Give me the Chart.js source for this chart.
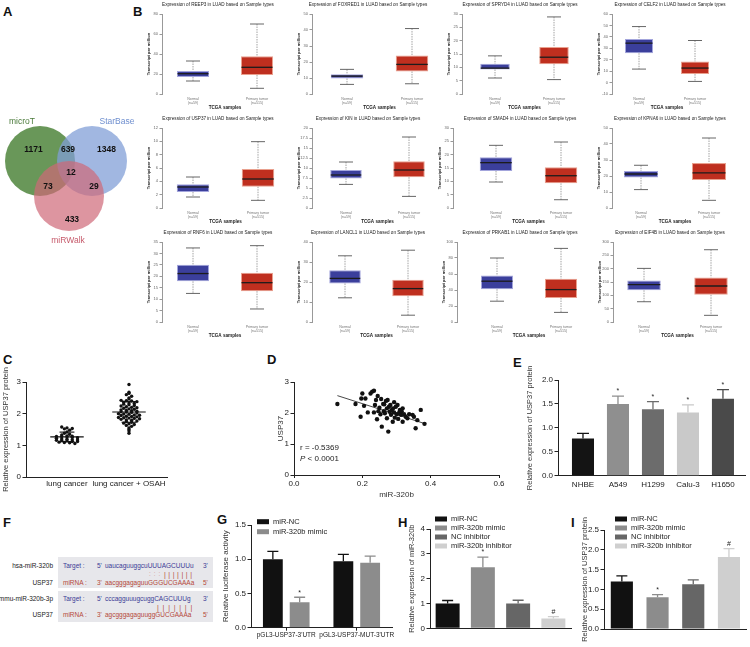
<!DOCTYPE html>
<html>
<head>
<meta charset="utf-8">
<script src="https://cdn.jsdelivr.net/npm/chart.js@4.4.1/dist/chart.umd.min.js"></script>
<style>
html, body { margin: 0; padding: 0; background: #fff; }
#stage { position: relative; width: 750px; height: 647px; overflow: hidden; font-family: "Liberation Sans", Arial, sans-serif; color: #222; }
#stage canvas { position: absolute; }
.t { position: absolute; white-space: nowrap; line-height: 1; }
.seqbox { position: absolute; background: #e7e7eb; }
</style>
</head>
<body>
<div id="stage"></div>
<script>
// ---------- data ----------
const vennSets = ['microT', 'StarBase', 'miRWalk'];
// microT only, microT+StarBase, StarBase only, all three, microT+miRWalk, StarBase+miRWalk, miRWalk only
const vennCounts = [1171, 639, 1348, 12, 73, 29, 433];

const genes = ['REEP3', 'FOXRED1', 'SPRYD4', 'CELF2', 'USP37', 'KIN', 'SMAD4', 'KPNA6', 'RNF6', 'LANCL1', 'PRKAB1', 'EIF4B'];
const sampleTypes = [['Normal', '(n=59)'], ['Primary tumor', '(n=515)']];
const tpmMin  = [0, 0, 0, -10, 0, 0, 0, 0, 0, 0, 0, 0];
const tpmMax  = [80, 50, 30, 60, 12, 20, 30, 50, 35, 40, 100, 300];
const tpmStep = [20, 10, 5, 10, 2, 2.5, 5, 10, 5, 10, 20, 50];
const normalLo  = [13, 6, 6, 11.8, 1.65, 5.9, 9.75, 11.5, 12.5, 12.1, 26, 76];
const normalQ1  = [17, 9.75, 9.2, 25.7, 2.4, 7.4, 13.9, 19, 17.8, 19.3, 41, 119];
const normalMed = [20.3, 11.2, 9.7, 34.5, 3.15, 8.25, 17, 21.25, 21.2, 21.8, 51, 140];
const normalQ3  = [23, 12.4, 11.3, 38.2, 3.55, 9.5, 19, 23.1, 25, 25.9, 58, 156];
const normalHi  = [33, 15.4, 14.3, 49, 4.65, 11.5, 23.5, 26.7, 32.4, 33.1, 80, 201];
const tumorLo   = [5.7, 6.4, 5.4, 1, 1.15, 2.9, 3.1, 4.8, 5.7, 3.4, 12, 25];
const tumorQ1   = [19, 14.1, 11.2, 7.4, 3.2, 7.7, 9.25, 17.5, 13.5, 12.9, 30, 102];
const tumorMed  = [26.7, 18.5, 13.8, 12.7, 4.35, 9.5, 12.1, 22, 17.2, 16.7, 40.5, 135];
const tumorQ3   = [37.7, 24, 17.6, 18.5, 5.85, 11.7, 15.25, 28.1, 21.6, 21.1, 54, 167];
const tumorHi   = [70, 40.9, 28.9, 36.8, 9.95, 17.75, 24.75, 43.75, 33.4, 35.9, 92, 271];

const groupsC = ['lung cancer', 'lung cancer + OSAH'];
const usp37LungCancer = [1.58, 1.55, 1.53, 1.52, 1.48, 1.42, 1.38, 1.35, 1.33, 1.3, 1.29, 1.28, 1.27, 1.26, 1.25,
  1.24, 1.22, 1.2, 1.19, 1.18, 1.17, 1.16, 1.15, 1.14, 1.12, 1.12, 1.1, 1.09, 1.08, 1.06];
const usp37LungCancerOsah = [2.92, 2.68, 2.64, 2.6, 2.55, 2.5, 2.46, 2.42, 2.41, 2.4, 2.38, 2.36, 2.34, 2.32, 2.3,
  2.28, 2.26, 2.24, 2.22, 2.2, 2.19, 2.17, 2.15, 2.14, 2.12, 2.1, 2.09, 2.08, 2.06, 2.05, 2.04, 2.02, 2.0, 1.99,
  1.98, 1.96, 1.95, 1.94, 1.92, 1.91, 1.9, 1.88, 1.87, 1.86, 1.85, 1.84, 1.82, 1.8, 1.79, 1.77, 1.75, 1.73, 1.7,
  1.68, 1.66, 1.63, 1.6, 1.55, 1.5, 1.45, 1.38];

const mir320bTissue = [0.127, 0.180, 0.195, 0.197, 0.200, 0.205, 0.209, 0.216, 0.224, 0.229, 0.234, 0.237, 0.240,
  0.245, 0.250, 0.253, 0.255, 0.257, 0.261, 0.263, 0.264, 0.269, 0.272, 0.274, 0.276, 0.278, 0.280, 0.282, 0.284,
  0.286, 0.289, 0.290, 0.293, 0.295, 0.298, 0.301, 0.303, 0.305, 0.308, 0.310, 0.313, 0.315, 0.318, 0.322, 0.327,
  0.332, 0.337, 0.347, 0.351, 0.361, 0.371, 0.382, 0.356, 0.243, 0.234, 0.266, 0.293, 0.318, 0.272, 0.247];
const usp37Tissue = [2.29, 2.29, 1.88, 2.47, 2.63, 2.23, 2.47, 2.02, 2.63, 2.69, 2.72, 2.26, 2.42, 2.55, 2.17, 1.96,
  2.45, 1.56, 2.29, 2.06, 2.28, 2.39, 1.83, 2.42, 1.40, 2.20, 2.04, 2.26, 1.94, 2.09, 1.72, 2.15, 2.02, 1.85, 2.20,
  1.96, 2.26, 1.81, 2.02, 2.10, 1.94, 2.06, 1.72, 1.96, 1.88, 1.83, 1.96, 1.94, 1.88, 1.77, 2.10, 1.65, 1.51, 1.80,
  2.02, 1.99, 2.35, 2.15, 2.15, 2.06];
const fitMir320b = [0.127, 0.385];
const fitUsp37 = [2.56, 1.65];
const corrR = -0.5369;
const corrP = '< 0.0001';

const cellLines = ['NHBE', 'A549', 'H1299', 'Calu-3', 'H1650'];
const usp37Cells = [0.78, 1.50, 1.39, 1.32, 1.61];
const usp37CellsSd = [0.105, 0.165, 0.16, 0.16, 0.19];
const cellMarks = ['', '*', '*', '*', '*'];

const reporters = ["pGL3-USP37-3'UTR", "pGL3-USP37-MUT-3'UTR"];
const lucNC = [1.0, 0.97];
const lucNCSd = [0.115, 0.10];
const lucMimic = [0.37, 0.95];
const lucMimicSd = [0.075, 0.095];
const lucMimicMarks = ['*', ''];

const treatments = ['miR-NC', 'miR-320b mimic', 'NC inhibitor', 'miR-320b inhibitor'];
const mir320bLevel = [1.0, 2.46, 1.0, 0.39];
const mir320bSd = [0.12, 0.41, 0.13, 0.08];
const mir320bMarks = ['', '*', '', '#'];
const usp37Level = [1.2, 0.8, 1.13, 1.82];
const usp37Sd = [0.14, 0.07, 0.11, 0.21];
const usp37Marks = ['', '*', '', '#'];

const pairNames = ['hsa-miR-320b', 'USP37', 'mmu-miR-320b-3p', 'USP37'];
const targetSeqs = ['uaucaguuggcuUUUAGCUUUu', 'cccagguuugcuggCAGCUUUg'];
const mirnaSeqs = ['aacgggagaguuGGGUCGAAAa', 'agcgggagaguuggGUCGAAAa'];

// ---------- setup ----------
const FONT = '"Liberation Sans", Arial, sans-serif';
Chart.defaults.font.family = FONT;
Chart.defaults.color = '#222';
Chart.defaults.animation = false;
Chart.defaults.plugins.legend.display = false;
Chart.defaults.plugins.tooltip.enabled = false;

const stage = document.getElementById('stage');

function canvasAt(left, top, w, h) {
  const c = document.createElement('canvas');
  c.width = w; c.height = h;
  c.style.left = left + 'px'; c.style.top = top + 'px';
  c.style.width = w + 'px'; c.style.height = h + 'px';
  stage.appendChild(c);
  return c.getContext('2d');
}

function text(x, y, s, size, o = {}) {
  const d = document.createElement('div');
  d.className = 't';
  d.textContent = s;
  d.style.fontSize = size + 'px';
  d.style.top = (y - size / 2) + 'px';
  if (o.right) d.style.right = (750 - x) + 'px'; else d.style.left = x + 'px';
  if (o.color) d.style.color = o.color;
  if (o.bold) d.style.fontWeight = 'bold';
  if (o.spacing) d.style.letterSpacing = o.spacing + 'px';
  stage.appendChild(d);
}

// GraphPad-style y axis
function gpY(min, max, step, title, size, pad, width, dec) {
  return {
    min, max,
    ticks: { stepSize: step, font: { size: 8 }, color: '#222', padding: 1.5,
      callback: v => dec === undefined ? v : Number(v).toFixed(dec) },
    grid: { drawOnChartArea: false, tickLength: 3.5, color: '#222' },
    border: { color: '#222', width: 1 },
    title: { display: true, text: title, font: { size: size }, color: '#333', padding: { top: pad, bottom: 0 } },
    afterFit: s => { s.width = width; }
  };
}

// ---------- plugins ----------
const errorBars = {
  id: 'errorBars',
  afterDatasetsDraw(chart, args, opts) {
    const { ctx } = chart;
    const y = chart.scales.y;
    ctx.save();
    chart.data.datasets.forEach((ds, di) => {
      if (!ds.errors) return;
      const meta = chart.getDatasetMeta(di);
      meta.data.forEach((bar, i) => {
        const v = meta.controller.getParsed(i).y;
        const top = y.getPixelForValue(v + ds.errors[i]);
        const col = Array.isArray(ds.backgroundColor) ? ds.backgroundColor[i] : ds.backgroundColor;
        ctx.strokeStyle = col;
        ctx.lineWidth = 1.3;
        ctx.beginPath();
        ctx.moveTo(bar.x, bar.y); ctx.lineTo(bar.x, top);
        ctx.moveTo(bar.x - opts.cap, top); ctx.lineTo(bar.x + opts.cap, top);
        ctx.stroke();
        if (ds.marks && ds.marks[i]) {
          ctx.fillStyle = '#222';
          ctx.font = opts.markSize + 'px ' + FONT;
          ctx.textAlign = 'center';
          ctx.textBaseline = 'bottom';
          ctx.fillText(ds.marks[i], bar.x, top - 1);
        }
      });
    });
    ctx.restore();
  }
};

const swatchLegend = {
  id: 'swatchLegend',
  afterDraw(chart, args, opts) {
    const { ctx } = chart;
    ctx.save();
    ctx.font = opts.size + 'px ' + FONT;
    ctx.textBaseline = 'middle';
    opts.items.forEach((it, k) => {
      const y = opts.y + k * opts.rowH;
      ctx.fillStyle = it.color;
      ctx.fillRect(opts.x, y - 2.5, 12, 5);
      ctx.fillStyle = '#222';
      ctx.fillText(it.label, opts.x + 16, y);
    });
    ctx.restore();
  }
};

const boxWhiskers = {
  id: 'boxWhiskers',
  beforeDatasetsDraw(chart) {
    const { ctx, scales: { x, y } } = chart;
    const ds = chart.data.datasets[0];
    ctx.save();
    ds.data.forEach((d, i) => {
      const px = x.getPixelForValue(d.x);
      const hi = y.getPixelForValue(ds.stats.hi[i]), lo = y.getPixelForValue(ds.stats.lo[i]);
      const q3 = y.getPixelForValue(d.y[1]), q1 = y.getPixelForValue(d.y[0]);
      ctx.strokeStyle = '#8c8c8c'; ctx.lineWidth = 0.8; ctx.setLineDash([1.5, 1]);
      ctx.beginPath();
      ctx.moveTo(px, hi); ctx.lineTo(px, q3);
      ctx.moveTo(px, q1); ctx.lineTo(px, lo);
      ctx.stroke();
      ctx.setLineDash([]); ctx.strokeStyle = '#555'; ctx.lineWidth = 0.9;
      ctx.beginPath();
      ctx.moveTo(px - 7, hi); ctx.lineTo(px + 7, hi);
      ctx.moveTo(px - 7, lo); ctx.lineTo(px + 7, lo);
      ctx.stroke();
    });
    ctx.restore();
  },
  afterDatasetsDraw(chart, args, opts) {
    const { ctx, scales: { y } } = chart;
    const ds = chart.data.datasets[0];
    const meta = chart.getDatasetMeta(0);
    ctx.save();
    ctx.strokeStyle = '#1c1c1c'; ctx.lineWidth = 1.3;
    meta.data.forEach((bar, i) => {
      const m = y.getPixelForValue(ds.stats.med[i]);
      ctx.beginPath();
      ctx.moveTo(bar.x - bar.width / 2 + 0.5, m); ctx.lineTo(bar.x + bar.width / 2 - 0.5, m);
      ctx.stroke();
    });
    ctx.fillStyle = '#222';
    ctx.font = '4.6px ' + FONT;
    ctx.textAlign = 'center'; ctx.textBaseline = 'middle';
    ctx.fillText(opts.title, opts.titleX, 4.8);
    ctx.restore();
  }
};

// ---------- panel letters ----------
[['A', 3, 11], ['B', 133, 11], ['C', 3, 359], ['D', 267, 359], ['E', 513, 362],
 ['F', 3, 522.5], ['G', 217, 519.5], ['H', 398, 522], ['I', 571, 522.5]]
  .forEach(([s, x, y]) => text(x, y, s, 13, { bold: true, color: '#111' }));

// ---------- A: Venn ----------
{
  const W = 150, H = 160;
  const centers = [[40, 61], [92, 61], [69, 96]];
  const fills = ['rgba(72,128,52,0.82)', 'rgba(128,158,214,0.74)', 'rgba(206,104,120,0.70)'];
  const nameColors = ['#4a7a3a', '#6f8fcf', '#c65a6b'];
  const namePos = [[22, 22], [117, 22], [68, 141]];
  const countPos = [[33.5, 50], [68, 50], [106.5, 50], [71, 73], [48, 87], [94, 87], [72, 120]];
  const vennText = {
    id: 'vennText',
    afterDatasetsDraw(chart) {
      const { ctx, scales: { x, y } } = chart;
      ctx.save();
      ctx.textAlign = 'center'; ctx.textBaseline = 'middle';
      ctx.font = '8.5px ' + FONT;
      vennSets.forEach((s, i) => {
        ctx.fillStyle = nameColors[i];
        ctx.fillText(s, x.getPixelForValue(namePos[i][0]), y.getPixelForValue(namePos[i][1]));
      });
      ctx.font = 'bold 8.5px ' + FONT;
      ctx.fillStyle = '#111';
      vennCounts.forEach((n, i) => {
        ctx.fillText(String(n), x.getPixelForValue(countPos[i][0]), y.getPixelForValue(countPos[i][1]));
      });
      ctx.restore();
    }
  };
  new Chart(canvasAt(0, 100, W, H), {
    type: 'bubble',
    data: {
      datasets: vennSets.map((name, i) => ({
        label: name,
        data: [{ x: centers[i][0], y: centers[i][1], r: 35 }],
        backgroundColor: fills[i], borderWidth: 0, order: 3 - i, clip: false
      }))
    },
    options: {
      responsive: false, devicePixelRatio: 1,
      layout: { padding: 0, autoPadding: false },
      scales: { x: { display: false, min: 0, max: W }, y: { display: false, min: 0, max: H, reverse: true } }
    },
    plugins: [vennText]
  });
}

// ---------- B: expression box plots ----------
{
  // y-axis x position, normal centre, tumour centre (page px)
  const boxAxes = [[162, 193, 257], [312, 347, 412], [462, 495, 554], [612, 639, 695],
                   [162, 193, 258], [312, 346, 409], [453, 496, 561], [612, 641, 709],
                   [162, 193, 257], [312, 345, 408], [457, 497, 561], [613, 644, 711]];
  const titleCenters = [218, 368, 520, 670];
  genes.forEach((gene, i) => {
    const row = Math.floor(i / 4), col = i % 4;
    const [ax, c1, c2] = boxAxes[i];
    const W = 180, H = 114, left = ax - 18;
    const s = c2 - c1, off = (c1 - ax) / s;
    const right = 18 + (c2 - ax) + (c1 - ax);
    new Chart(canvasAt(left, row * 114, W, H), {
      type: 'bar',
      data: {
        datasets: [{
          data: [{ x: 0, y: [normalQ1[i], normalQ3[i]] }, { x: 1, y: [tumorQ1[i], tumorQ3[i]] }],
          backgroundColor: ['#3b3f9c', '#bf2f1f'],
          borderColor: ['#a3a5dc', '#e9a08e'],
          borderWidth: 1, borderSkipped: false,
          barPercentage: 0.5, categoryPercentage: 1,
          stats: { lo: [normalLo[i], tumorLo[i]], med: [normalMed[i], tumorMed[i]], hi: [normalHi[i], tumorHi[i]] }
        }]
      },
      options: {
        responsive: false, devicePixelRatio: 1,
        layout: { padding: { left: 0, top: 14, right: W - right, bottom: 0 } },
        plugins: { boxWhiskers: { title: `Expression of ${gene} in LUAD based on Sample types`, titleX: titleCenters[col] - left } },
        scales: {
          x: {
            type: 'linear', min: -off, max: 1 + off, offset: false,
            afterBuildTicks: sc => { sc.ticks = [{ value: 0 }, { value: 1 }]; },
            ticks: { callback: v => sampleTypes[v], font: { size: 3.6 }, color: '#777', padding: 3, maxRotation: 0 },
            grid: { display: false, drawTicks: false },
            border: { display: false },
            title: { display: true, text: 'TCGA samples', font: { size: 4.6, weight: 'bold' }, color: '#222', padding: { top: 0, bottom: 4 } },
            afterFit: sc => { sc.height = H - 94; }
          },
          y: {
            min: tpmMin[i], max: tpmMax[i],
            ticks: { stepSize: tpmStep[i], font: { size: 4 }, color: '#666', padding: 1.5 },
            grid: { drawOnChartArea: false, tickLength: 2.5, color: '#999' },
            border: { color: '#999' },
            title: { display: true, text: 'Transcript per million', font: { size: 4.2, weight: 'bold' }, color: '#222', padding: { top: 2, bottom: 0 } },
            afterFit: sc => { sc.width = 18; }
          }
        }
      },
      plugins: [boxWhiskers]
    });
  });
}

// ---------- C: dot plot ----------
{
  const W = 180, H = 160;
  const swarm = (vals, c) => {
    const rows = {};
    vals.forEach(v => { const k = Math.round(v / 0.06); (rows[k] = rows[k] || []).push(v); });
    const pts = [];
    Object.values(rows).forEach(r => r.forEach((v, j) => pts.push({ x: c + (j - (r.length - 1) / 2) * 0.085, y: v })));
    return pts;
  };
  const meanSd = (vals, c) => {
    const m = vals.reduce((a, b) => a + b, 0) / vals.length;
    const sd = Math.sqrt(vals.reduce((a, b) => a + (b - m) ** 2, 0) / (vals.length - 1));
    const seg = (y, h) => ({ type: 'line', data: [{ x: c - h, y }, { x: c + h, y }], borderColor: '#111', borderWidth: 1.1, pointRadius: 0, showLine: true });
    return [seg(m, 0.27), seg(m + sd, 0.12), seg(m - sd, 0.12)];
  };
  new Chart(canvasAt(0, 340, W, H), {
    type: 'scatter',
    data: {
      datasets: [
        { data: swarm(usp37LungCancer, 0).concat(swarm(usp37LungCancerOsah, 1)), pointRadius: 1.7, backgroundColor: '#111', borderWidth: 0 },
        ...meanSd(usp37LungCancer, 0), ...meanSd(usp37LungCancerOsah, 1)
      ]
    },
    options: {
      responsive: false, devicePixelRatio: 1,
      layout: { padding: { left: 0, top: 42, right: W - 167, bottom: 0 } },
      scales: {
        x: {
          type: 'linear', min: -0.661, max: 1.613,
          afterBuildTicks: sc => { sc.ticks = [{ value: 0 }, { value: 1 }]; },
          ticks: { callback: v => groupsC[v], font: { size: 8 }, color: '#222', padding: 2, maxRotation: 0, autoSkip: false },
          grid: { display: false, drawTicks: false },
          border: { color: '#222', width: 1 },
          afterFit: sc => { sc.height = H - 137; }
        },
        y: gpY(0, 3, 1, 'Relative expression of USP37 protein', 7.5, 1.5, 26)
      }
    }
  });
}

// ---------- D: correlation ----------
{
  const W = 240, H = 160;
  const corrText = {
    id: 'corrText',
    afterDraw(chart) {
      const { ctx, chartArea } = chart;
      const x0 = chartArea.left + 6;
      ctx.save();
      ctx.fillStyle = '#222'; ctx.textBaseline = 'middle';
      ctx.font = '8px ' + FONT;
      ctx.fillText('r = ' + corrR.toFixed(4), x0, 108);
      ctx.font = 'italic 8px ' + FONT;
      ctx.fillText('P', x0, 118.5);
      const w = ctx.measureText('P').width;
      ctx.font = '8px ' + FONT;
      ctx.fillText(' ' + corrP, x0 + w, 118.5);
      ctx.restore();
    }
  };
  new Chart(canvasAt(270, 340, W, H), {
    type: 'scatter',
    data: {
      datasets: [
        { data: mir320bTissue.map((v, i) => ({ x: v, y: usp37Tissue[i] })), pointRadius: 2.2, backgroundColor: '#111', borderWidth: 0 },
        { type: 'line', data: fitMir320b.map((v, i) => ({ x: v, y: fitUsp37[i] })), borderColor: '#333', borderWidth: 0.9, pointRadius: 0, showLine: true }
      ]
    },
    options: {
      responsive: false, devicePixelRatio: 1,
      layout: { padding: { left: 0, top: 42, right: W - 229, bottom: 0 } },
      scales: {
        x: {
          type: 'linear', min: 0, max: 0.6,
          ticks: { stepSize: 0.2, font: { size: 8 }, color: '#222', padding: 1, callback: v => Number(v).toFixed(1) },
          grid: { drawOnChartArea: false, tickLength: 3, color: '#222' },
          border: { color: '#222', width: 1 },
          title: { display: true, text: 'miR-320b', font: { size: 8 }, color: '#333', padding: { top: 0, bottom: 0.5 } },
          afterFit: sc => { sc.height = H - 135; }
        },
        y: gpY(0, 3, 1, 'USP37', 8, 5.5, 24)
      }
    },
    plugins: [corrText]
  });
}

// ---------- E: cell lines ----------
{
  const W = 235, H = 160;
  new Chart(canvasAt(515, 340, W, H), {
    type: 'bar',
    data: {
      datasets: [{
        data: usp37Cells.map((v, i) => ({ x: i, y: v })),
        backgroundColor: ['#141414', '#8f8f8f', '#6c6c6c', '#c9c9c9', '#4a4a4a'],
        errors: usp37CellsSd, marks: cellMarks,
        barPercentage: 0.63, categoryPercentage: 1
      }]
    },
    options: {
      responsive: false, devicePixelRatio: 1,
      layout: { padding: { left: 0, top: 40, right: W - 230, bottom: 0 } },
      plugins: { errorBars: { cap: 6, markSize: 7 } },
      scales: {
        x: {
          type: 'linear', min: -0.714, max: 4.63, offset: false,
          afterBuildTicks: sc => { sc.ticks = cellLines.map((c, i) => ({ value: i })); },
          ticks: { callback: v => cellLines[v], font: { size: 8 }, color: '#222', padding: 4, maxRotation: 0, autoSkip: false },
          grid: { display: false, drawTicks: false },
          border: { color: '#222', width: 1 },
          afterFit: sc => { sc.height = H - 135.7; }
        },
        y: gpY(0, 2, 0.5, 'Relative expression of USP37 protein', 7.5, 10.5, 43, 1)
      }
    },
    plugins: [errorBars]
  });
}

// ---------- F: binding sites ----------
{
  const blue = '#3b3b96', red = '#b5483a';
  [[557, 31], [591, 31]].forEach(([top, h]) => {
    const d = document.createElement('div');
    d.className = 'seqbox';
    d.style.cssText = `left:58px;top:${top}px;width:155px;height:${h}px`;
    stage.appendChild(d);
  });
  const rowY = [566, 583, 599, 615];
  pairNames.forEach((s, i) => text(53, rowY[i], s, 6.5, { right: true }));
  targetSeqs.forEach((seq, k) => {
    const yT = rowY[2 * k], yM = rowY[2 * k + 1];
    text(63, yT, 'Target :', 6.5, { color: blue });
    text(97, yT, "5'", 6.5, { color: blue });
    text(105, yT, seq, 6.5, { color: blue });
    text(203, yT, "3'", 6.5, { color: blue });
    text(63, yM, 'miRNA :', 6.5, { color: red });
    text(97, yM, "3'", 6.5, { color: red });
    text(105, yM, mirnaSeqs[k], 6.5, { color: red });
    text(203, yM, "5'", 6.5, { color: red });
  });
  text(149, 574.5, ': : :', 6.5, { color: '#d59a9a', spacing: 0.6 });
  text(164, 574.5, '| | | | | | |', 7, { color: red, spacing: 0.3 });
  text(157, 607.5, '| | | | | | |', 7, { color: red, spacing: 0.9 });
}

// ---------- G: luciferase ----------
{
  const W = 185, H = 137;
  new Chart(canvasAt(215, 510, W, H), {
    type: 'bar',
    data: {
      labels: reporters,
      datasets: [
        { label: 'miR-NC', data: lucNC, errors: lucNCSd, backgroundColor: '#111111' },
        { label: 'miR-320b mimic', data: lucMimic, errors: lucMimicSd, marks: lucMimicMarks, backgroundColor: '#8c8c8c' }
      ]
    },
    options: {
      responsive: false, devicePixelRatio: 1,
      datasets: { bar: { categoryPercentage: 0.76, barPercentage: 0.74 } },
      layout: { padding: { left: 0, top: 15, right: W - 177, bottom: 0 } },
      plugins: {
        errorBars: { cap: 5.5, markSize: 7 },
        swatchLegend: { x: 42, y: 11.7, rowH: 10, size: 7.5, items: [{ label: 'miR-NC', color: '#111111' }, { label: 'miR-320b mimic', color: '#8c8c8c' }] }
      },
      scales: {
        x: {
          ticks: { font: { size: 6.5 }, color: '#222', padding: 1, maxRotation: 0, autoSkip: false },
          grid: { drawOnChartArea: false, offset: false, tickLength: 3, color: '#222' },
          border: { color: '#222', width: 1 },
          afterFit: sc => { sc.height = H - 117.7; }
        },
        y: gpY(0, 1.5, 0.5, 'Relative luciferase activity', 8, 6.2, 36, 1)
      }
    },
    plugins: [errorBars, swatchLegend]
  });
}

// ---------- H and I: treatment bars ----------
const treatColors = ['#111111', '#8c8c8c', '#666666', '#cfcfcf'];
function treatChart(left, box, vals, sds, marks, yAxis, barPct) {
  const W = 175, H = 137;
  new Chart(canvasAt(left, 510, W, H), {
    type: 'bar',
    data: {
      labels: treatments,
      datasets: [{ data: vals, errors: sds, marks: marks, backgroundColor: treatColors, barPercentage: barPct, categoryPercentage: 1 }]
    },
    options: {
      responsive: false, devicePixelRatio: 1,
      layout: { padding: { left: 0, top: box.t, right: W - box.r, bottom: 0 } },
      plugins: {
        errorBars: { cap: 5.5, markSize: 7 },
        swatchLegend: { x: box.lx, y: 9, rowH: 9, size: 7.5, items: treatments.map((t, i) => ({ label: t, color: treatColors[i] })) }
      },
      scales: {
        x: {
          ticks: { display: false },
          grid: { display: false, drawTicks: false },
          border: { color: '#222', width: 1 },
          afterFit: sc => { sc.height = H - box.b; }
        },
        y: yAxis
      }
    },
    plugins: [errorBars, swatchLegend]
  });
}
treatChart(400, { t: 19, b: 118.3, r: 171, lx: 35 }, mir320bLevel, mir320bSd, mir320bMarks,
  gpY(0, 4, 1, 'Relative expression of miR-320b', 7.5, 7.5, 30), 0.68);
treatChart(575, { t: 20, b: 119, r: 171.8, lx: 40 }, usp37Level, usp37Sd, usp37Marks,
  gpY(0, 2.5, 0.5, 'Relative expression of USP37 protein', 7.5, 5, 29, 1), 0.62);
</script>
</body>
</html>
